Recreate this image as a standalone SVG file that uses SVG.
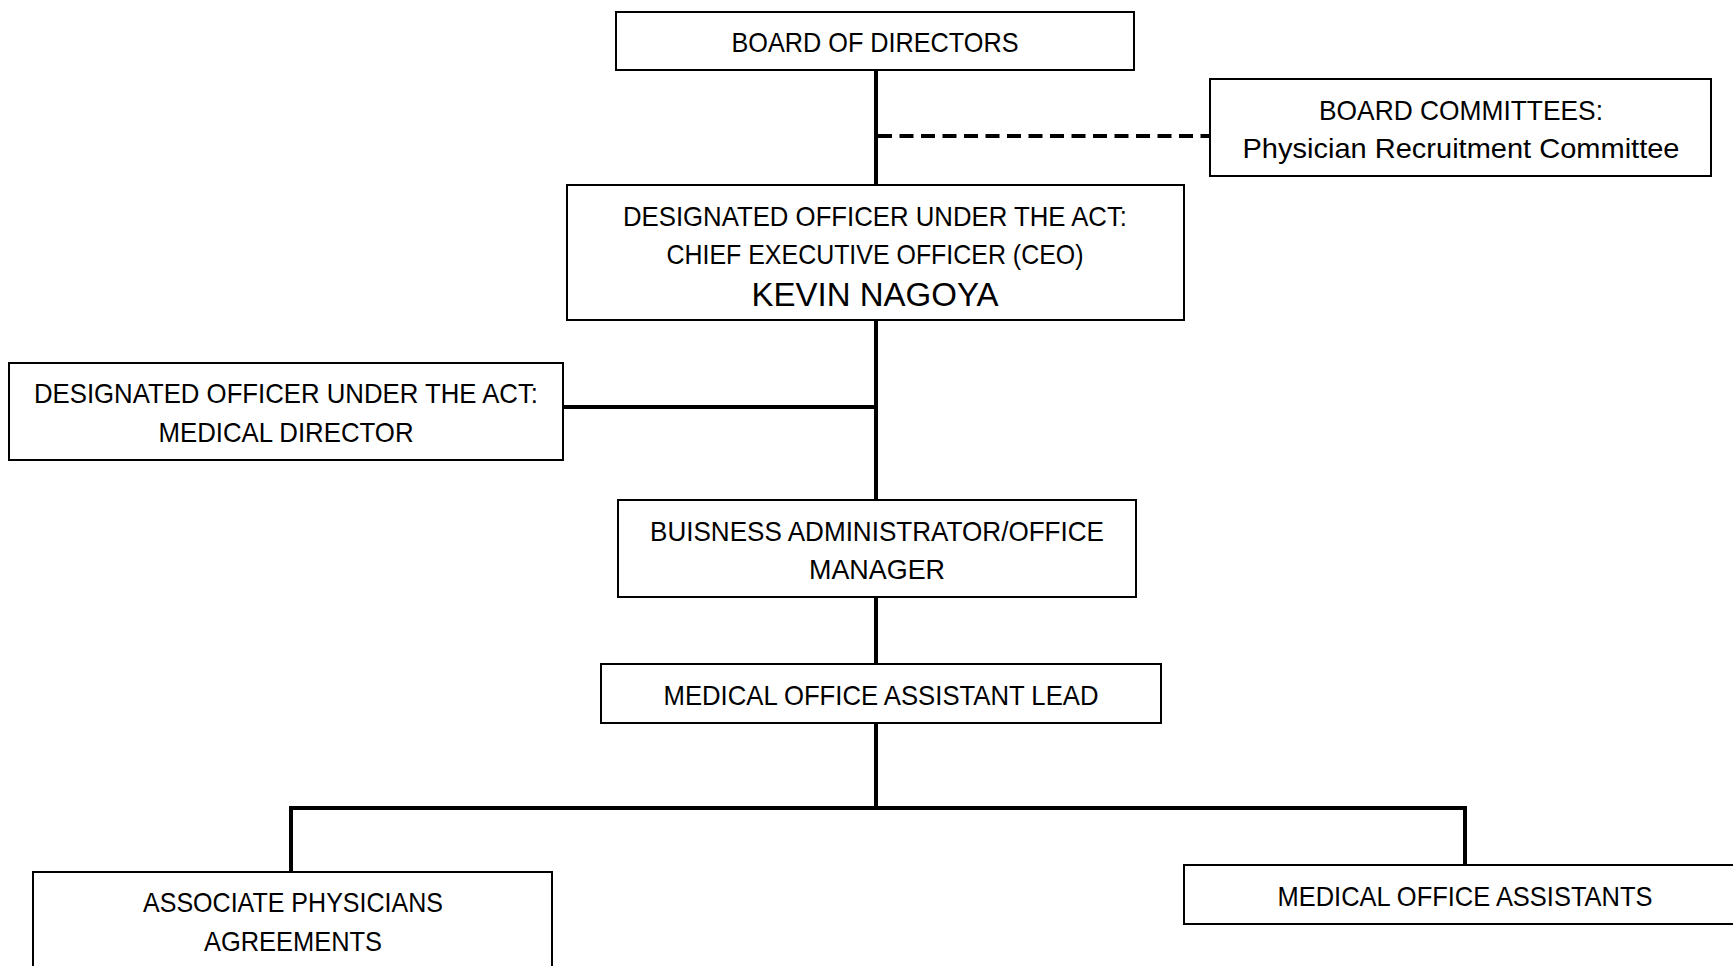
<svg xmlns="http://www.w3.org/2000/svg" width="1733" height="966" viewBox="0 0 1733 966">
<style>
.box{fill:#fff;stroke:#000;stroke-width:2}
.t{font-family:"Liberation Sans",Arial,sans-serif;font-size:27.5px;fill:#000;text-anchor:middle}
.big{font-family:"Liberation Sans",Arial,sans-serif;font-size:33px;fill:#000;text-anchor:middle}
.c{fill:none;stroke:#000;stroke-width:4}
.d{fill:none;stroke:#000;stroke-width:4;stroke-dasharray:14 7.5}
</style>
<rect width="1733" height="966" fill="#fff"/>
<g id="connectors">
<line class="c" x1="876" y1="70" x2="876" y2="185"/>
<line class="d" x1="878" y1="136" x2="1210" y2="136"/>
<line class="c" x1="876" y1="320" x2="876" y2="500"/>
<line class="c" x1="563" y1="407" x2="876" y2="407"/>
<line class="c" x1="876" y1="597" x2="876" y2="664"/>
<line class="c" x1="876" y1="723" x2="876" y2="808"/>
<polyline class="c" points="291,872 291,808 1465,808 1465,865"/>
</g>
<g id="board">
<rect class="box" x="616" y="12" width="518" height="58"/>
<text class="t" x="875" y="51.5" textLength="287" lengthAdjust="spacingAndGlyphs">BOARD OF DIRECTORS</text>
</g>
<g id="committees">
<rect class="box" x="1210" y="79" width="501" height="97"/>
<text class="t" x="1461" y="119.5" textLength="284" lengthAdjust="spacingAndGlyphs">BOARD COMMITTEES:</text>
<text class="t" x="1461" y="158" textLength="437" lengthAdjust="spacingAndGlyphs">Physician Recruitment Committee</text>
</g>
<g id="ceo">
<rect class="box" x="567" y="185" width="617" height="135"/>
<text class="t" x="875" y="225.5" textLength="504" lengthAdjust="spacingAndGlyphs">DESIGNATED OFFICER UNDER THE ACT:</text>
<text class="t" x="875" y="264" textLength="417" lengthAdjust="spacingAndGlyphs">CHIEF EXECUTIVE OFFICER (CEO)</text>
<text class="big" x="875" y="306">KEVIN NAGOYA</text>
</g>
<g id="medical-director">
<rect class="box" x="9" y="363" width="554" height="97"/>
<text class="t" x="286" y="403" textLength="504" lengthAdjust="spacingAndGlyphs">DESIGNATED OFFICER UNDER THE ACT:</text>
<text class="t" x="286" y="442" textLength="255" lengthAdjust="spacingAndGlyphs">MEDICAL DIRECTOR</text>
</g>
<g id="business-admin">
<rect class="box" x="618" y="500" width="518" height="97"/>
<text class="t" x="877" y="540.5" textLength="454" lengthAdjust="spacingAndGlyphs">BUISNESS ADMINISTRATOR/OFFICE</text>
<text class="t" x="877" y="579" textLength="136" lengthAdjust="spacingAndGlyphs">MANAGER</text>
</g>
<g id="moa-lead">
<rect class="box" x="601" y="664" width="560" height="59"/>
<text class="t" x="881" y="705" textLength="435" lengthAdjust="spacingAndGlyphs">MEDICAL OFFICE ASSISTANT LEAD</text>
</g>
<g id="associate-physicians">
<rect class="box" x="33" y="872" width="519" height="130"/>
<text class="t" x="293" y="912" textLength="300" lengthAdjust="spacingAndGlyphs">ASSOCIATE PHYSICIANS</text>
<text class="t" x="293" y="950.5" textLength="178" lengthAdjust="spacingAndGlyphs">AGREEMENTS</text>
</g>
<g id="moa">
<rect class="box" x="1184" y="865" width="562" height="59"/>
<text class="t" x="1465" y="906" textLength="375" lengthAdjust="spacingAndGlyphs">MEDICAL OFFICE ASSISTANTS</text>
</g>
</svg>
